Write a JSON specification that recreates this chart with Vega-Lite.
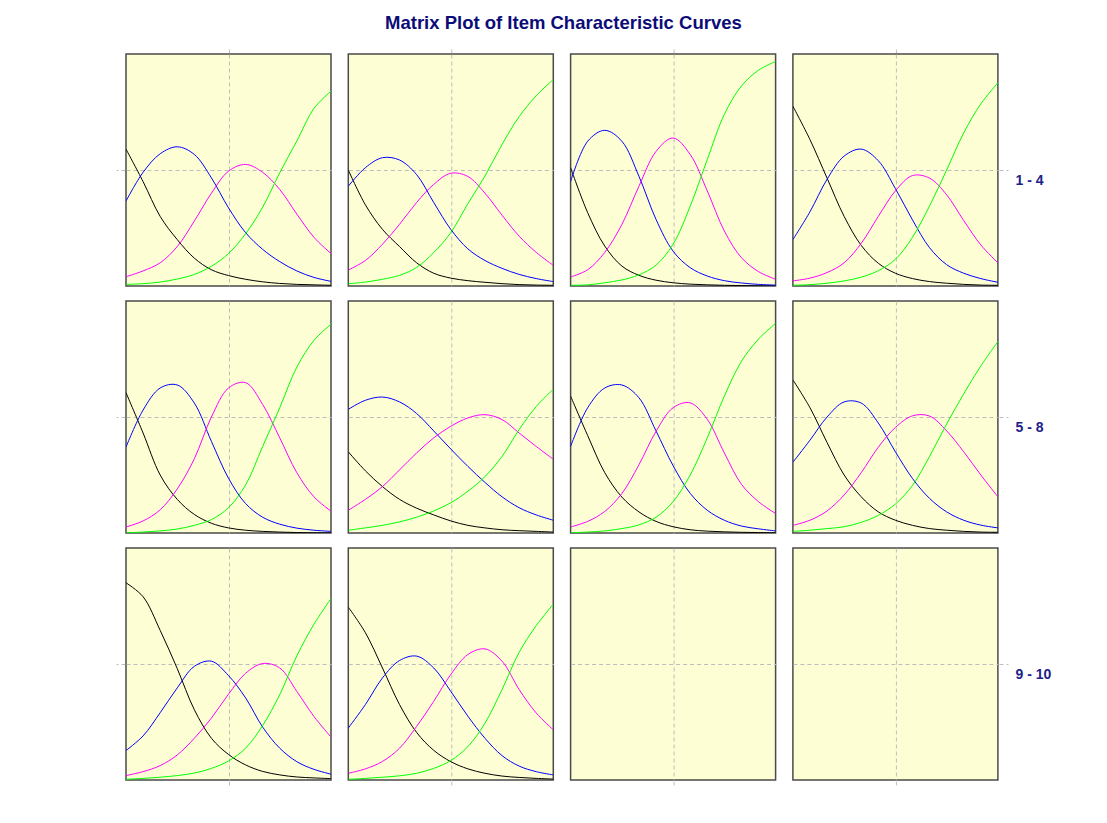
{
  "$schema": "https://vega.github.io/schema/vega-lite/v6.json",
  "padding": {"left": 115, "top": 14, "right": 0, "bottom": 0},
  "background": "white",
  "datasets": {
    "items": [
      {"i": 1, "g": "1 - 4", "col": 1}, {"i": 2, "g": "1 - 4", "col": 2}, {"i": 3, "g": "1 - 4", "col": 3}, {"i": 4, "g": "1 - 4", "col": 4},
      {"i": 5, "g": "5 - 8", "col": 1}, {"i": 6, "g": "5 - 8", "col": 2}, {"i": 7, "g": "5 - 8", "col": 3}, {"i": 8, "g": "5 - 8", "col": 4},
      {"i": 9, "g": "9 - 10", "col": 1}, {"i": 10, "g": "9 - 10", "col": 2}, {"i": 11, "g": "9 - 10", "col": 3}, {"i": 12, "g": "9 - 10", "col": 4}
    ],
    "icc": [
      {"i":1,"t":-3,"a":0.59,"b":0.366,"c":0.04,"d":0.007},
      {"i":1,"t":-2.5,"a":0.45,"b":0.49,"c":0.065,"d":0.01},
      {"i":1,"t":-2,"a":0.30,"b":0.57,"c":0.10,"d":0.017},
      {"i":1,"t":-1.5,"a":0.20,"b":0.60,"c":0.17,"d":0.03},
      {"i":1,"t":-1,"a":0.12,"b":0.567,"c":0.28,"d":0.05},
      {"i":1,"t":-0.5,"a":0.07,"b":0.466,"c":0.40,"d":0.085},
      {"i":1,"t":0,"a":0.045,"b":0.337,"c":0.495,"d":0.14},
      {"i":1,"t":0.5,"a":0.029,"b":0.23,"c":0.524,"d":0.225},
      {"i":1,"t":1,"a":0.018,"b":0.158,"c":0.49,"d":0.34},
      {"i":1,"t":1.5,"a":0.011,"b":0.105,"c":0.416,"d":0.488},
      {"i":1,"t":2,"a":0.007,"b":0.065,"c":0.31,"d":0.625},
      {"i":1,"t":2.5,"a":0.005,"b":0.037,"c":0.21,"d":0.765},
      {"i":1,"t":3,"a":0.003,"b":0.02,"c":0.14,"d":0.84},

      {"i":2,"t":-3,"a":0.50,"b":0.43,"c":0.069,"d":0.01},
      {"i":2,"t":-2.5,"a":0.35,"b":0.51,"c":0.11,"d":0.017},
      {"i":2,"t":-2,"a":0.244,"b":0.553,"c":0.18,"d":0.029},
      {"i":2,"t":-1.5,"a":0.17,"b":0.543,"c":0.266,"d":0.046},
      {"i":2,"t":-1,"a":0.10,"b":0.48,"c":0.36,"d":0.08},
      {"i":2,"t":-0.5,"a":0.055,"b":0.36,"c":0.438,"d":0.144},
      {"i":2,"t":0,"a":0.034,"b":0.244,"c":0.486,"d":0.23},
      {"i":2,"t":0.5,"a":0.023,"b":0.16,"c":0.472,"d":0.355},
      {"i":2,"t":1,"a":0.016,"b":0.11,"c":0.40,"d":0.474},
      {"i":2,"t":1.5,"a":0.01,"b":0.076,"c":0.305,"d":0.61},
      {"i":2,"t":2,"a":0.006,"b":0.05,"c":0.215,"d":0.73},
      {"i":2,"t":2.5,"a":0.004,"b":0.032,"c":0.145,"d":0.82},
      {"i":2,"t":3,"a":0.003,"b":0.019,"c":0.089,"d":0.89},

      {"i":3,"t":-3,"a":0.51,"b":0.45,"c":0.039,"d":0.003},
      {"i":3,"t":-2.5,"a":0.316,"b":0.624,"c":0.07,"d":0.005},
      {"i":3,"t":-2,"a":0.172,"b":0.671,"c":0.145,"d":0.014},
      {"i":3,"t":-1.5,"a":0.086,"b":0.624,"c":0.265,"d":0.026},
      {"i":3,"t":-1,"a":0.046,"b":0.473,"c":0.43,"d":0.048},
      {"i":3,"t":-0.5,"a":0.025,"b":0.287,"c":0.58,"d":0.09},
      {"i":3,"t":0,"a":0.014,"b":0.15,"c":0.638,"d":0.18},
      {"i":3,"t":0.5,"a":0.008,"b":0.079,"c":0.567,"d":0.344},
      {"i":3,"t":1,"a":0.005,"b":0.043,"c":0.41,"d":0.545},
      {"i":3,"t":1.5,"a":0.003,"b":0.023,"c":0.237,"d":0.74},
      {"i":3,"t":2,"a":0.002,"b":0.013,"c":0.122,"d":0.862},
      {"i":3,"t":2.5,"a":0.001,"b":0.007,"c":0.062,"d":0.93},
      {"i":3,"t":3,"a":0.001,"b":0.004,"c":0.029,"d":0.968},

      {"i":4,"t":-3,"a":0.775,"b":0.20,"c":0.022,"d":0.003},
      {"i":4,"t":-2.5,"a":0.631,"b":0.32,"c":0.034,"d":0.006},
      {"i":4,"t":-2,"a":0.465,"b":0.46,"c":0.058,"d":0.012},
      {"i":4,"t":-1.5,"a":0.30,"b":0.56,"c":0.10,"d":0.022},
      {"i":4,"t":-1,"a":0.175,"b":0.59,"c":0.184,"d":0.038},
      {"i":4,"t":-0.5,"a":0.098,"b":0.54,"c":0.30,"d":0.066},
      {"i":4,"t":0,"a":0.055,"b":0.42,"c":0.41,"d":0.115},
      {"i":4,"t":0.5,"a":0.032,"b":0.285,"c":0.476,"d":0.21},
      {"i":4,"t":1,"a":0.019,"b":0.165,"c":0.465,"d":0.345},
      {"i":4,"t":1.5,"a":0.012,"b":0.092,"c":0.393,"d":0.50},
      {"i":4,"t":2,"a":0.007,"b":0.055,"c":0.282,"d":0.66},
      {"i":4,"t":2.5,"a":0.004,"b":0.032,"c":0.177,"d":0.785},
      {"i":4,"t":3,"a":0.003,"b":0.016,"c":0.10,"d":0.876},

      {"i":5,"t":-3,"a":0.605,"b":0.37,"c":0.026,"d":0.001},
      {"i":5,"t":-2.5,"a":0.431,"b":0.53,"c":0.052,"d":0.004},
      {"i":5,"t":-2,"a":0.25,"b":0.625,"c":0.10,"d":0.009},
      {"i":5,"t":-1.5,"a":0.145,"b":0.638,"c":0.19,"d":0.017},
      {"i":5,"t":-1,"a":0.08,"b":0.56,"c":0.32,"d":0.033},
      {"i":5,"t":-0.5,"a":0.042,"b":0.395,"c":0.50,"d":0.058},
      {"i":5,"t":0,"a":0.022,"b":0.236,"c":0.625,"d":0.109},
      {"i":5,"t":0.5,"a":0.012,"b":0.127,"c":0.648,"d":0.207},
      {"i":5,"t":1,"a":0.007,"b":0.068,"c":0.554,"d":0.373},
      {"i":5,"t":1.5,"a":0.004,"b":0.038,"c":0.41,"d":0.54},
      {"i":5,"t":2,"a":0.002,"b":0.021,"c":0.26,"d":0.715},
      {"i":5,"t":2.5,"a":0.001,"b":0.012,"c":0.156,"d":0.83},
      {"i":5,"t":3,"a":0.001,"b":0.007,"c":0.094,"d":0.90},

      {"i":6,"t":-3,"a":0.35,"b":0.533,"c":0.098,"d":0.012},
      {"i":6,"t":-2.5,"a":0.268,"b":0.572,"c":0.145,"d":0.022},
      {"i":6,"t":-2,"a":0.20,"b":0.586,"c":0.20,"d":0.033},
      {"i":6,"t":-1.5,"a":0.145,"b":0.565,"c":0.272,"d":0.048},
      {"i":6,"t":-1,"a":0.107,"b":0.515,"c":0.345,"d":0.068},
      {"i":6,"t":-0.5,"a":0.078,"b":0.44,"c":0.41,"d":0.095},
      {"i":6,"t":0,"a":0.052,"b":0.362,"c":0.46,"d":0.13},
      {"i":6,"t":0.5,"a":0.033,"b":0.287,"c":0.496,"d":0.18},
      {"i":6,"t":1,"a":0.022,"b":0.218,"c":0.51,"d":0.243},
      {"i":6,"t":1.5,"a":0.014,"b":0.156,"c":0.489,"d":0.33},
      {"i":6,"t":2,"a":0.01,"b":0.109,"c":0.431,"d":0.446},
      {"i":6,"t":2.5,"a":0.007,"b":0.078,"c":0.373,"d":0.545},
      {"i":6,"t":3,"a":0.004,"b":0.055,"c":0.318,"d":0.62},

      {"i":7,"t":-3,"a":0.59,"b":0.373,"c":0.026,"d":0.001},
      {"i":7,"t":-2.5,"a":0.42,"b":0.54,"c":0.05,"d":0.004},
      {"i":7,"t":-2,"a":0.26,"b":0.625,"c":0.093,"d":0.009},
      {"i":7,"t":-1.5,"a":0.155,"b":0.638,"c":0.17,"d":0.019},
      {"i":7,"t":-1,"a":0.091,"b":0.583,"c":0.294,"d":0.035},
      {"i":7,"t":-0.5,"a":0.05,"b":0.44,"c":0.438,"d":0.068},
      {"i":7,"t":0,"a":0.027,"b":0.29,"c":0.54,"d":0.135},
      {"i":7,"t":0.5,"a":0.014,"b":0.171,"c":0.561,"d":0.25},
      {"i":7,"t":1,"a":0.008,"b":0.098,"c":0.49,"d":0.41},
      {"i":7,"t":1.5,"a":0.005,"b":0.055,"c":0.345,"d":0.59},
      {"i":7,"t":2,"a":0.003,"b":0.03,"c":0.21,"d":0.74},
      {"i":7,"t":2.5,"a":0.002,"b":0.018,"c":0.135,"d":0.836},
      {"i":7,"t":3,"a":0.001,"b":0.009,"c":0.084,"d":0.904},

      {"i":8,"t":-3,"a":0.66,"b":0.305,"c":0.033,"d":0.007},
      {"i":8,"t":-2.5,"a":0.54,"b":0.40,"c":0.055,"d":0.012},
      {"i":8,"t":-2,"a":0.39,"b":0.50,"c":0.095,"d":0.019},
      {"i":8,"t":-1.5,"a":0.25,"b":0.565,"c":0.164,"d":0.027},
      {"i":8,"t":-1,"a":0.156,"b":0.56,"c":0.26,"d":0.046},
      {"i":8,"t":-0.5,"a":0.091,"b":0.474,"c":0.37,"d":0.076},
      {"i":8,"t":0,"a":0.055,"b":0.35,"c":0.455,"d":0.125},
      {"i":8,"t":0.5,"a":0.033,"b":0.235,"c":0.505,"d":0.205},
      {"i":8,"t":1,"a":0.019,"b":0.149,"c":0.504,"d":0.33},
      {"i":8,"t":1.5,"a":0.012,"b":0.091,"c":0.44,"d":0.47},
      {"i":8,"t":2,"a":0.007,"b":0.055,"c":0.35,"d":0.60},
      {"i":8,"t":2.5,"a":0.004,"b":0.034,"c":0.25,"d":0.72},
      {"i":8,"t":3,"a":0.003,"b":0.022,"c":0.156,"d":0.825},

      {"i":9,"t":-3,"a":0.85,"b":0.127,"c":0.019,"d":0.003},
      {"i":9,"t":-2.5,"a":0.79,"b":0.19,"c":0.036,"d":0.007},
      {"i":9,"t":-2,"a":0.645,"b":0.29,"c":0.062,"d":0.012},
      {"i":9,"t":-1.5,"a":0.48,"b":0.397,"c":0.108,"d":0.019},
      {"i":9,"t":-1,"a":0.303,"b":0.49,"c":0.18,"d":0.03},
      {"i":9,"t":-0.5,"a":0.18,"b":0.512,"c":0.267,"d":0.05},
      {"i":9,"t":0,"a":0.11,"b":0.45,"c":0.37,"d":0.082},
      {"i":9,"t":0.5,"a":0.065,"b":0.354,"c":0.46,"d":0.137},
      {"i":9,"t":1,"a":0.037,"b":0.228,"c":0.502,"d":0.235},
      {"i":9,"t":1.5,"a":0.022,"b":0.137,"c":0.483,"d":0.368},
      {"i":9,"t":2,"a":0.013,"b":0.079,"c":0.382,"d":0.535},
      {"i":9,"t":2.5,"a":0.009,"b":0.046,"c":0.274,"d":0.671},
      {"i":9,"t":3,"a":0.006,"b":0.025,"c":0.185,"d":0.782},

      {"i":10,"t":-3,"a":0.745,"b":0.224,"c":0.029,"d":0.003},
      {"i":10,"t":-2.5,"a":0.635,"b":0.325,"c":0.048,"d":0.007},
      {"i":10,"t":-2,"a":0.483,"b":0.44,"c":0.08,"d":0.012},
      {"i":10,"t":-1.5,"a":0.325,"b":0.515,"c":0.137,"d":0.018},
      {"i":10,"t":-1,"a":0.205,"b":0.534,"c":0.231,"d":0.029},
      {"i":10,"t":-0.5,"a":0.128,"b":0.483,"c":0.339,"d":0.05},
      {"i":10,"t":0,"a":0.079,"b":0.382,"c":0.455,"d":0.084},
      {"i":10,"t":0.5,"a":0.048,"b":0.275,"c":0.541,"d":0.144},
      {"i":10,"t":1,"a":0.029,"b":0.18,"c":0.565,"d":0.245},
      {"i":10,"t":1.5,"a":0.017,"b":0.105,"c":0.512,"d":0.39},
      {"i":10,"t":2,"a":0.011,"b":0.06,"c":0.39,"d":0.55},
      {"i":10,"t":2.5,"a":0.007,"b":0.036,"c":0.289,"d":0.665},
      {"i":10,"t":3,"a":0.004,"b":0.022,"c":0.216,"d":0.758},

      {"i":11,"t":0,"a":null,"b":null,"c":null,"d":null},
      {"i":12,"t":0,"a":null,"b":null,"c":null,"d":null}
    ]
  },
  "data": {"name": "icc"},
  "transform": [
    {"lookup": "i", "from": {"data": {"name": "items"}, "key": "i", "fields": ["g", "col"]}},
    {"fold": ["a", "b", "c", "d"], "as": ["cat", "p"]}
  ],
  "title": {
    "text": "Matrix Plot of Item Characteristic Curves",
    "font": "Liberation Sans",
    "fontSize": 18.5,
    "fontWeight": "bold",
    "color": "#0c0c78",
    "anchor": "middle",
    "dx": -20,
    "offset": 14
  },
  "facet": {
    "row": {
      "field": "g", "type": "nominal", "sort": ["1 - 4", "5 - 8", "9 - 10"],
      "header": {
        "title": null, "labelOrient": "right", "labelAngle": 0, "labelAlign": "right",
        "labelBaseline": "middle", "labelExpr": "['', datum.label]", "labelLineHeight": 11,
        "labelFont": "Liberation Sans", "labelFontSize": 14,
        "labelFontWeight": "bold", "labelColor": "#20208a", "labelPadding": 7
      }
    },
    "column": {"field": "col", "type": "ordinal", "header": {"title": null, "labels": false}}
  },
  "spacing": {"row": 13, "column": 15.3},
  "spec": {
    "width": 205,
    "height": 232,
    "layer": [
      {
        "mark": {"type": "line", "strokeWidth": 1, "interpolate": "catmull-rom", "clip": true},
        "encoding": {
          "x": {"field": "t", "type": "quantitative", "scale": {"domain": [-3, 3], "nice": false},
                "axis": {"title": null, "labels": false, "domain": false, "values": [0], "tickSize": 7,
                         "tickColor": "#bdbdbd", "tickDash": [4, 3], "grid": true, "gridColor": "#bdbdbd", "gridDash": [4, 3], "gridWidth": 1}},
          "y": {"field": "p", "type": "quantitative", "scale": {"domain": [0, 1], "nice": false},
                "axis": {"title": null, "labels": false, "domain": false, "values": [0.5], "tickSize": 9,
                         "tickColor": "#bdbdbd", "tickDash": [4, 3], "grid": true, "gridColor": "#bdbdbd", "gridDash": [4, 3], "gridWidth": 1}},
          "color": {"field": "cat", "type": "nominal", "scale": {"domain": ["a", "b", "c", "d"], "range": ["#000000", "#0000ff", "#ff00ff", "#00ff00"]}, "legend": null}
        }
      },
      {
        "mark": {"type": "line", "opacity": 0},
        "encoding": {
          "x": {"field": "t", "type": "quantitative", "scale": {"domain": [-3, 3], "nice": false},
                "axis": {"orient": "top", "title": null, "labels": false, "domain": false, "values": [0], "tickSize": 6,
                         "tickColor": "#bdbdbd", "tickDash": [4, 3], "grid": false}},
          "y": {"field": "p", "type": "quantitative", "scale": {"domain": [0, 1], "nice": false},
                "axis": {"orient": "right", "title": null, "labels": false, "domain": false, "values": [0.5], "tickSize": 9,
                         "tickColor": "#bdbdbd", "tickDash": [4, 3], "grid": false}}
        }
      }
    ],
    "resolve": {"axis": {"x": "independent", "y": "independent"}}
  },
  "config": {
    "view": {"fill": "#fefed5", "stroke": "#4a4a4a", "strokeWidth": 1.5}
  }
}
